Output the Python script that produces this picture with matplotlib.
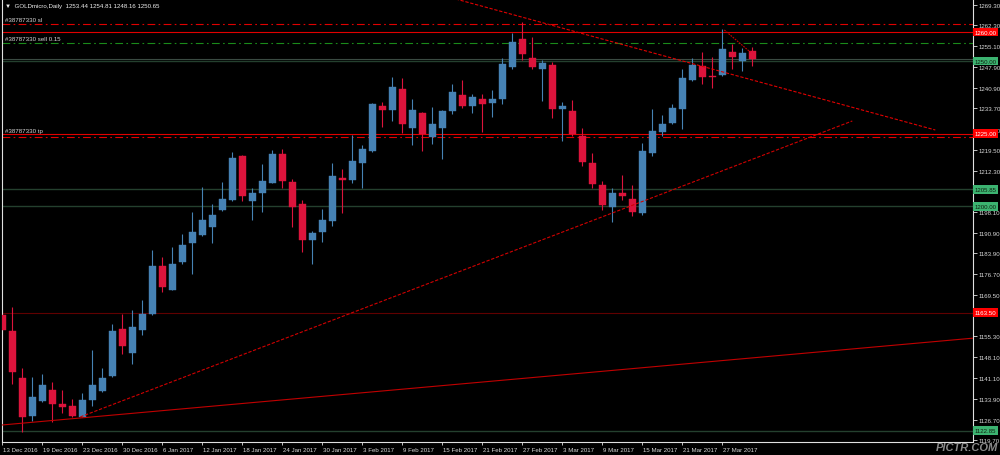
import matplotlib
matplotlib.use("Agg")
import matplotlib.pyplot as plt
import matplotlib.transforms as mtransforms

plt.rcParams['font.family'] = ['Liberation Sans', 'DejaVu Sans']

# daily OHLC, 13 Dec 2016 .. 30 Mar 2017 (GOLDmicro)
opens = [1162.7, 1157.2, 1141.0, 1127.9, 1133.1, 1136.9, 1132.0, 1131.4, 1127.6, 1133.4,
         1136.5, 1141.7, 1157.8, 1149.6, 1157.5, 1163.0, 1179.5, 1171.3, 1180.9, 1187.4,
         1190.2, 1192.9, 1198.8, 1202.2, 1217.4, 1201.9, 1204.6, 1208.1, 1218.0, 1208.4,
         1200.8, 1188.5, 1191.2, 1195.0, 1209.8, 1209.1, 1214.9, 1219.1, 1234.6, 1233.2,
         1240.4, 1227.0, 1232.1, 1223.9, 1227.0, 1232.8, 1238.3, 1234.6, 1237.0, 1235.6,
         1237.0, 1248.0, 1257.6, 1251.1, 1247.3, 1248.7, 1233.5, 1232.8, 1224.2, 1214.9,
         1207.4, 1199.8, 1204.6, 1202.6, 1197.7, 1218.4, 1225.6, 1228.7, 1233.5, 1243.5,
         1248.3, 1244.7, 1245.2, 1253.1, 1250.0, 1253.44]
highs = [1164.7, 1165.4, 1144.4, 1141.3, 1142.4, 1139.6, 1136.9, 1133.8, 1135.8, 1150.6,
         1144.4, 1159.6, 1163.0, 1164.4, 1167.8, 1185.0, 1182.6, 1186.1, 1190.5, 1198.1,
         1206.7, 1200.8, 1208.4, 1218.7, 1217.7, 1206.3, 1214.6, 1219.4, 1219.8, 1209.4,
         1202.2, 1191.6, 1199.1, 1214.9, 1212.9, 1224.6, 1221.1, 1235.6, 1235.9, 1244.5,
         1244.2, 1237.0, 1232.5, 1234.2, 1233.2, 1242.1, 1243.5, 1238.7, 1238.7, 1240.1,
         1251.1, 1259.7, 1263.5, 1258.3, 1250.4, 1249.7, 1235.9, 1236.6, 1227.0, 1218.4,
         1208.8, 1206.3, 1210.8, 1207.4, 1221.8, 1233.5, 1231.5, 1235.2, 1247.3, 1251.1,
         1253.1, 1251.4, 1261.0, 1255.9, 1254.5, 1254.81]
lows = [1154.4, 1138.9, 1122.4, 1126.2, 1132.7, 1125.9, 1128.9, 1127.6, 1127.4, 1131.4,
        1136.2, 1141.3, 1149.2, 1145.8, 1155.8, 1162.7, 1170.6, 1171.1, 1180.2, 1176.8,
        1190.0, 1187.4, 1198.4, 1202.0, 1201.9, 1195.3, 1198.1, 1207.9, 1206.3, 1192.9,
        1184.3, 1180.2, 1187.8, 1193.3, 1197.7, 1208.1, 1206.3, 1218.7, 1227.3, 1229.4,
        1225.3, 1221.1, 1219.1, 1221.5, 1216.3, 1231.8, 1233.9, 1232.1, 1225.6, 1230.8,
        1235.2, 1247.3, 1250.4, 1247.3, 1236.3, 1230.4, 1222.5, 1224.2, 1213.9, 1206.3,
        1198.8, 1194.7, 1202.2, 1196.7, 1197.1, 1217.4, 1224.2, 1228.4, 1226.6, 1243.2,
        1242.1, 1240.7, 1244.9, 1247.3, 1246.6, 1248.16]
closes = [1157.5, 1143.1, 1127.6, 1134.5, 1138.6, 1132.0, 1131.0, 1127.9, 1133.4, 1138.6,
          1141.0, 1157.2, 1152.0, 1158.5, 1163.0, 1179.5, 1172.3, 1180.2, 1186.7, 1191.2,
          1195.3, 1197.1, 1202.6, 1216.7, 1203.6, 1204.6, 1208.8, 1218.0, 1208.8, 1199.8,
          1188.5, 1190.9, 1195.3, 1210.5, 1209.1, 1215.6, 1219.8, 1235.2, 1233.2, 1241.1,
          1228.4, 1233.2, 1224.9, 1228.4, 1232.8, 1239.4, 1234.6, 1237.7, 1235.2, 1237.0,
          1249.0, 1256.6, 1252.4, 1248.0, 1249.3, 1233.5, 1234.6, 1224.9, 1215.3, 1207.7,
          1200.5, 1204.6, 1203.6, 1198.1, 1219.1, 1226.0, 1228.4, 1233.9, 1244.2, 1248.7,
          1244.5, 1244.4, 1254.2, 1251.4, 1252.8, 1250.65]

date_labels = ["13 Dec 2016", "19 Dec 2016", "23 Dec 2016", "30 Dec 2016", "6 Jan 2017",
               "12 Jan 2017", "18 Jan 2017", "24 Jan 2017", "30 Jan 2017", "3 Feb 2017",
               "9 Feb 2017", "15 Feb 2017", "21 Feb 2017", "27 Feb 2017", "3 Mar 2017",
               "9 Mar 2017", "15 Mar 2017", "21 Mar 2017", "27 Mar 2017"]
# 1205.10 and 1162.30 sit under the price boxes, so they are left out
price_ticks = [1269.30, 1262.30, 1255.10, 1247.90, 1240.90, 1233.70, 1226.30, 1219.50,
               1212.30, 1198.10, 1190.90, 1183.90, 1176.70, 1169.50,
               1155.30, 1148.10, 1141.10, 1133.90, 1126.70, 1119.70]

# horizontal lines with their price boxes on the axis
red_levels = [1260.00, 1225.00]
dark_red_levels = [1163.50]
green_levels = [1250.00, 1205.85, 1200.00, 1122.85]
# order lines (ticket #38787330)
sl_price = 1262.8
open_price = 1256.2
tp_price = 1223.9

# trend lines: (bar, price) end points
trend_down = [(45.3, 1271.4), (93.3, 1226.3)]
trend_up = [(7.8, 1127.6), (85.0, 1229.4)]
trend_long = [(-0.1, 1124.8), (97.1, 1154.7)]
trend_short = [(72.2, 1260.7), (74.8, 1253.1)]

bull = '#4682b4'
bear = '#dc143c'
fs = 4.4
txt = '#d8d8d8'

fig = plt.figure(figsize=(10, 4.56), dpi=100, facecolor='black')
ax = fig.add_axes([1.5 / 1000, 13 / 456, 971.5 / 1000, 443 / 456])
ax.set_facecolor('black')

# level lines
for p in red_levels:
    ax.axhline(p, color='#e00000', lw=0.8, zorder=1)
for p in dark_red_levels:
    ax.axhline(p, color='#600000', lw=0.8, zorder=1)
for p in green_levels:
    ax.axhline(p, color='#24402e', lw=1.0, zorder=1)
ax.axhline(1250.65, color='#3a4a42', lw=0.8, zorder=1)
dashdot = (0, (7, 3, 1.5, 3))
ax.axhline(sl_price, color='#e00000', lw=0.8, ls=dashdot, zorder=1)
ax.axhline(tp_price, color='#e00000', lw=0.8, ls=dashdot, zorder=1)
ax.axhline(open_price, color='#1a8a1a', lw=0.8, ls=dashdot, zorder=1)

# candles
for i in range(len(opens)):
    o, h, l, c = opens[i], highs[i], lows[i], closes[i]
    col = bull if c >= o else bear
    ax.vlines(i, l, h, color=col, lw=0.8, zorder=2)
    body = max(abs(c - o), 0.35)
    ax.bar(i, body, bottom=min(o, c), width=0.7, color=col, edgecolor=col,
           lw=0.3, zorder=3)

# trend lines
for pts, style, col in [(trend_down, (0, (3, 1.5)), '#e00000'),
                        (trend_up, (0, (3, 1.5)), '#d00000'),
                        (trend_long, '-', '#c00000'),
                        (trend_short, (0, (1.5, 1)), '#d00000')]:
    ax.plot([pts[0][0], pts[1][0]], [pts[0][1], pts[1][1]], color=col, lw=0.8,
            ls=style, zorder=4)

ax.set_xlim(-0.08, 97.07)
ax.set_ylim(1118.97, 1271.36)

# axes styling
for s in ['left', 'right', 'bottom']:
    ax.spines[s].set_color('#e0e0e0')
    ax.spines[s].set_linewidth(0.8)
ax.spines['top'].set_visible(False)

ax.yaxis.tick_right()
ax.set_yticks(price_ticks)
ax.set_yticklabels(['%.2f' % p for p in price_ticks])
ax.tick_params(axis='y', direction='out', length=3, width=0.6, color='#e0e0e0',
               labelsize=fs, labelcolor=txt, pad=1)

ax.set_xticks(range(0, 4 * len(date_labels), 4))
ax.set_xticklabels(date_labels)
ax.tick_params(axis='x', direction='out', length=2.5, width=0.6, color='#e0e0e0',
               labelsize=fs, labelcolor=txt, pad=1)
shift = mtransforms.ScaledTranslation(1 / 100, 0, fig.dpi_scale_trans)
for lbl in ax.get_xticklabels():
    lbl.set_ha('left')
    lbl.set_transform(lbl.get_transform() + shift)

# price boxes on right axis
trans = mtransforms.blended_transform_factory(ax.transAxes, ax.transData)
for p in red_levels + dark_red_levels:
    ax.text(1.0015, p, '%.2f' % p, transform=trans, fontsize=fs, color='white',
            va='center', ha='left', clip_on=False, zorder=10,
            bbox=dict(boxstyle='square,pad=0.3', fc='#ff0000', ec='none'))
for p in green_levels:
    ax.text(1.0015, p, '%.2f' % p, transform=trans, fontsize=fs, color='#102010',
            va='center', ha='left', clip_on=False, zorder=10,
            bbox=dict(boxstyle='square,pad=0.3', fc='#3cb371', ec='none'))

# labels on the chart
tl = mtransforms.blended_transform_factory(ax.transAxes, ax.transData)
ax.text(0.004, sl_price + 0.6, '#38787330 sl', transform=tl, fontsize=fs, color=txt,
        va='bottom', ha='left')
ax.text(0.004, open_price + 0.6, '#38787330 sell 0.15', transform=tl, fontsize=fs,
        color=txt, va='bottom', ha='left')
ax.text(0.004, tp_price + 1.2, '#38787330 tp', transform=tl, fontsize=fs, color=txt,
        va='bottom', ha='left')
ax.text(0.004, 0.985, '\u25bc  GOLDmicro,Daily  %.2f %.2f %.2f %.2f'
        % (opens[-1], highs[-1], lows[-1], closes[-1]),
        transform=ax.transAxes, fontsize=fs, color='#f0f0f0', va='center', ha='left')

fig.text(0.998, 0.006, 'PICTR.COM', fontsize=8, color='#8a8a8a', weight='bold',
         style='italic', ha='right', va='bottom')

fig.savefig('out.png', dpi=100, facecolor='black')
